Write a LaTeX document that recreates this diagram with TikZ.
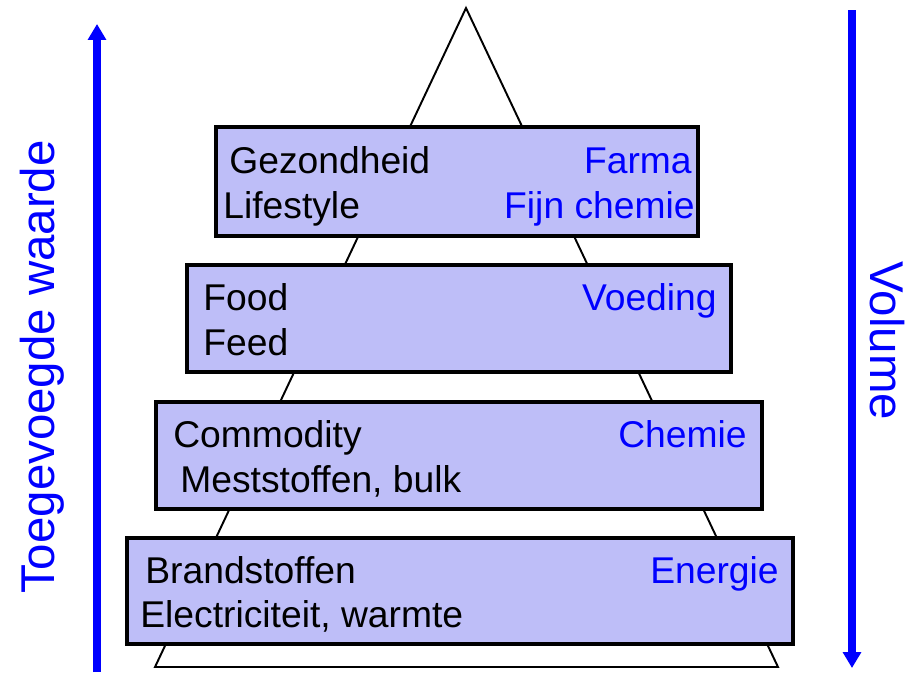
\documentclass[tikz,border=0pt]{standalone}
\usepackage{fontspec}
\setmainfont{Liberation Sans}
\usetikzlibrary{arrows.meta}
\definecolor{layerfill}{RGB}{190,190,248}
\definecolor{pureblue}{RGB}{0,0,255}
\tikzset{
  layer/.style={draw=black, line width=2pt, fill=layerfill, inner sep=0pt},
  lefttxt/.style={anchor=base west, inner sep=0pt, font=\fontsize{21.2}{25}\selectfont},
  righttxt/.style={anchor=base east, inner sep=0pt, text=pureblue, font=\fontsize{21.2}{25}\selectfont},
  sidearrow/.style={draw=pureblue, line width=4pt, -{Triangle[width=10pt,length=9pt]}},
  sidelabel/.style={inner sep=0pt, text=pureblue, font=\fontsize{27}{31}\selectfont}
}
\begin{document}
\begin{tikzpicture}[x=0.02cm, y=-0.02cm]
  \useasboundingbox (0,0) rectangle (914,674);

  % piramide
  \draw[line width=1.1pt, line join=miter] (466,8) -- (155,667) -- (778,667) -- cycle;

  % lagen
  \node[layer, minimum width=9.64cm, minimum height=2.18cm] (b1) at (457,181.5) {};
  \node[layer, minimum width=10.88cm, minimum height=2.14cm] (b2) at (459,318.5) {};
  \node[layer, minimum width=12.12cm, minimum height=2.14cm] (b3) at (459,455.5) {};
  \node[layer, minimum width=13.32cm, minimum height=2.12cm] (b4) at (460,591) {};

  % teksten links
  \node[lefttxt] (gez) at (229,173) {Gezondheid};
  \node[lefttxt] (life) at (223,218) {Lifestyle};
  \node[lefttxt] (food) at (203,310) {Food};
  \node[lefttxt] (feed) at (203,355) {Feed};
  \node[lefttxt] (comm) at (173,447) {Commodity};
  \node[lefttxt] (mest) at (180,492) {Meststoffen, bulk};
  \node[lefttxt] (brand) at (145,583) {Brandstoffen};
  \node[lefttxt] (elec) at (140,627) {Electriciteit, warmte};

  % teksten rechts
  \node[righttxt] (farma) at (692,173) {Farma};
  \node[righttxt] (fijn) at (695,218) {Fijn chemie};
  \node[righttxt] (voed) at (717,310) {Voeding};
  \node[righttxt] (chem) at (747,447) {Chemie};
  \node[righttxt] (ener) at (779,583) {Energie};

  % pijlen
  \coordinate (wlow) at (97,672);
  \coordinate (whigh) at (97,24);
  \coordinate (vtop) at (852,10);
  \coordinate (vbot) at (852,668);
  \draw[sidearrow] (wlow) -- (whigh);
  \draw[sidearrow] (vtop) -- (vbot);

  \node[sidelabel, rotate=90, anchor=base] (waarde) at (54,367) {Toegevoegde waarde};
  \node[sidelabel, rotate=-90, anchor=base] (vol) at (870,341) {Volume};
\end{tikzpicture}
\end{document}
